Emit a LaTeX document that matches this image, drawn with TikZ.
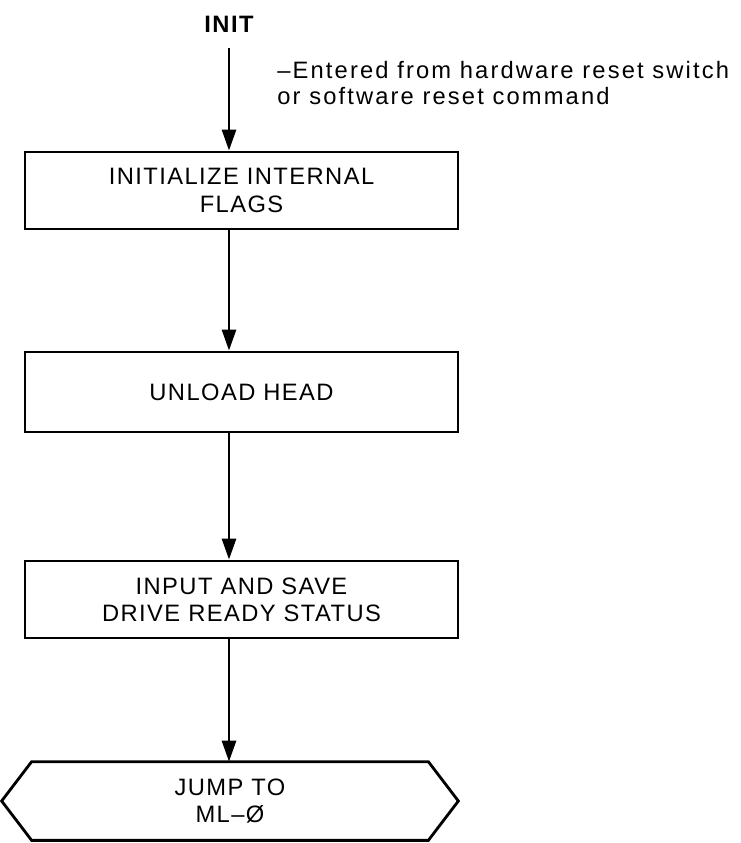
\documentclass[tikz,border=0pt]{standalone}
\usepackage{fontspec}
\newfontfamily\chartfont{Liberation Sans}[LetterSpace=6]
\newfontfamily\notefont{Liberation Sans}[LetterSpace=9]
\usepackage{tikz}
\usetikzlibrary{positioning, arrows.meta, calc}

\begin{document}
\begin{tikzpicture}[
        >={Triangle[length=0.42cm, width=0.28cm]}, % Arrowhead style
        procbox/.style={rectangle, draw, line width=1.6pt, minimum width=8.66cm, minimum height=1.54cm, align=center, font=\chartfont\fontsize{13.5}{15.5}\selectfont},
        jumpbox/.style={rectangle, minimum width=9.12cm, minimum height=1.56cm, align=center, font=\chartfont\fontsize{13.5}{15.5}\selectfont},
        flow/.style={->, line width=1.6pt}
    ]
    \useasboundingbox (0,0) rectangle (14.82,-16.86);

    % ==========================================
    % Entry point
    % ==========================================
    \node[font=\chartfont\bfseries\fontsize{13.5}{15.5}\selectfont] (init) at (4.58,-0.48) {INIT};
    \node[anchor=west, align=left, inner sep=0pt, font=\notefont\fontsize{13.5}{14.7}\selectfont] (note) at (5.54,-1.66) {–Entered from hardware reset switch\\or software reset command};

    % ==========================================
    % Process boxes
    % ==========================================
    \node[procbox] (flags) at (4.83,-3.81) {INITIALIZE INTERNAL\\FLAGS};
    \node[procbox, minimum height=1.6cm] (unload) at (4.83,-7.84) {UNLOAD HEAD};
    \node[procbox] (ready) at (4.83,-11.99) {INPUT AND SAVE\\DRIVE READY STATUS};

    % Exit (hexagon drawn round the text node)
    \node[jumpbox] (jump) at (4.6,-16.02) {JUMP TO\\ML–Ø};
    \draw[line width=1.6pt] (jump.west) -- ([xshift=0.6cm]jump.north west) -- ([xshift=-0.6cm]jump.north east) -- (jump.east) -- ([xshift=-0.6cm]jump.south east) -- ([xshift=0.6cm]jump.south west) -- cycle;

    % ==========================================
    % Flow lines
    % ==========================================
    \draw[flow, shorten <=0.2cm] (init) -- (init |- flags.north);
    \draw[flow] (flags.south -| init) -- (unload.north -| init);
    \draw[flow] (unload.south -| init) -- (ready.north -| init);
    \draw[flow] (ready.south -| init) -- (jump.north -| init);

\end{tikzpicture}
\end{document}
